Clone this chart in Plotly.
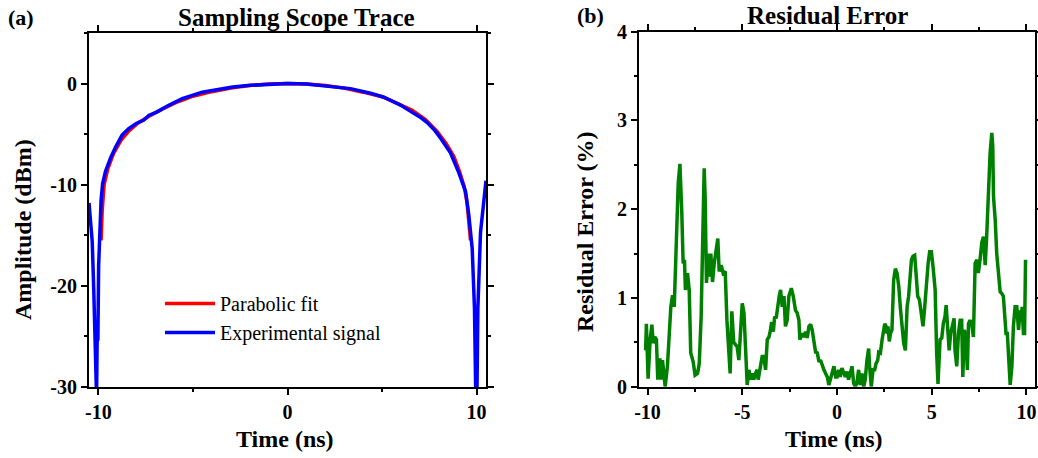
import plotly.graph_objects as go

# ---------------- data ----------------
# (a) Sampling scope trace: parabolic fit (dBm)
fit_t = [-9.86, -9.8, -9.7, -9.5, -9.2, -8.8, -8.4, -7.9, -7.3, -6.6, -5.8, -5.0, -4.0, -3.0,
         -2.0, -1.0, 0.0, 1.0, 2.0, 3.0, 4.0, 5.0, 5.8, 6.6, 7.3, 7.9, 8.4, 8.8, 9.1, 9.35,
         9.5, 9.6, 9.68]
fit_db = [-15.5, -12.5, -10.0, -8.4, -6.9, -5.6, -4.7, -3.9, -3.2, -2.5, -1.8, -1.25, -0.8, -0.45,
          -0.2, -0.05, 0.0, -0.05, -0.2, -0.45, -0.85, -1.3, -1.95, -2.65, -3.55, -4.7, -5.95, -7.2,
          -8.7, -10.2, -11.8, -13.5, -15.5]

# (a) experimental signal (dBm)
exp_t = [-10.5, -10.42, -10.33, -10.25, -10.2, -10.15, -10.1, -10.07, -10.03, -9.99, -9.93,
         -9.86, -9.78, -9.63, -9.37, -9.1, -8.75, -8.4, -8.0, -7.6, -7.34, -6.9, -6.28, -5.57,
         -4.51, -3.72, -2.9, -1.96, -1.0, 0.0, 1.0, 1.57, 2.5, 3.33, 4.39, 5.1, 5.45, 6.0, 6.51,
         7.0, 7.39, 7.8, 8.1, 8.62, 9.06, 9.42, 9.59, 9.77, 9.89, 9.96, 10.02, 10.07, 10.21,
         10.39, 10.5]
exp_db = [-11.8, -13.6, -15.6, -20.3, -25.5, -31.0, -31.0, -25.5, -25.3, -18.0, -14.0,
          -11.5, -9.9, -8.7, -7.4, -6.3, -5.1, -4.45, -3.95, -3.6, -3.15, -2.8, -2.15, -1.5,
          -0.85, -0.6, -0.35, -0.17, -0.05, 0.0, -0.05, -0.15, -0.3, -0.5, -0.95, -1.35, -1.65, -2.15,
          -2.75, -3.3, -3.85, -4.65, -5.4, -6.85, -8.8, -10.7, -13.0, -16.3, -22.2, -31.0, -31.0,
          -22.2, -14.7, -11.4, -9.6]

# (b) residual error (%)
res_t = [-10.1, -10.06, -9.97, -9.86, -9.77, -9.70, -9.62, -9.53, -9.46, -9.35, -9.28, -9.21,
         -9.07, -8.95, -8.77, -8.68, -8.59, -8.50, -8.38, -8.29, -8.22, -8.19, -8.12, -8.05,
         -8.00, -7.89, -7.80, -7.72, -7.59, -7.49, -7.36, -7.27, -7.17, -7.10, -7.01, -6.96,
         -6.89, -6.78, -6.71, -6.66, -6.57, -6.48, -6.40, -6.29, -6.22, -6.11, -6.01, -5.90,
         -5.81, -5.69, -5.64, -5.55, -5.45, -5.27, -5.18, -5.00, -4.91, -4.83, -4.74, -4.65,
         -4.56, -4.47, -4.39, -4.30, -4.21, -4.16, -4.03, -3.95, -3.86, -3.77, -3.68, -3.59,
         -3.51, -3.45, -3.36, -3.29, -3.21, -3.12, -3.05, -2.98, -2.89, -2.80, -2.72, -2.63,
         -2.54, -2.41, -2.31, -2.19, -2.10, -2.01, -1.96, -1.83, -1.75, -1.66, -1.57, -1.48,
         -1.39, -1.31, -1.22, -1.13, -1.04, -0.95, -0.87, -0.78, -0.69, -0.60, -0.51, -0.43,
         -0.34, -0.25, -0.16, -0.07, 0.00, 0.09, 0.17, 0.26, 0.35, 0.44, 0.53, 0.61, 0.70, 0.79,
         0.88, 0.97, 1.05, 1.14, 1.23, 1.32, 1.41, 1.49, 1.58, 1.67, 1.72, 1.81, 1.90, 1.99,
         2.06, 2.15, 2.20, 2.29, 2.38, 2.46, 2.52, 2.59, 2.64, 2.69, 2.76, 2.82, 2.90, 2.99,
         3.08, 3.17, 3.26, 3.34, 3.43, 3.52, 3.61, 3.70, 3.78, 3.87, 3.93, 4.01, 4.10, 4.17,
         4.26, 4.35, 4.44, 4.54, 4.63, 4.72, 4.81, 4.89, 4.98, 5.07, 5.18, 5.26, 5.33, 5.44,
         5.53, 5.61, 5.70, 5.76, 5.83, 5.92, 6.00, 6.09, 6.18, 6.23, 6.32, 6.41, 6.50, 6.58,
         6.64, 6.72, 6.81, 6.88, 6.94, 7.02, 7.11, 7.20, 7.29, 7.38, 7.46, 7.55, 7.64, 7.73,
         7.82, 7.90, 7.99, 8.08, 8.17, 8.22, 8.26, 8.35, 8.43, 8.52, 8.61, 8.70, 8.78, 8.87,
         8.92, 8.99, 9.07, 9.14, 9.23, 9.31, 9.40, 9.49, 9.58, 9.67, 9.72, 9.77, 9.84, 9.90,
         9.95]
res_v = [0.41, 0.71, 0.09, 0.53, 0.70, 0.49, 0.56, 0.53, 0.08, 0.32, 0.08, 0.30,
         0.00, 0.23, 0.90, 1.03, 0.90, 1.65, 2.29, 2.51, 2.18, 1.95, 1.39, 1.43,
         1.09, 1.28, 1.09, 0.38, 0.28, 0.13, 0.15, 0.26, 0.79, 1.50, 2.46, 2.14,
         1.17, 1.50, 1.24, 1.50, 1.18, 1.39, 1.50, 1.67, 1.30, 1.37, 1.28, 1.30,
         0.75, 0.38, 0.15, 0.85, 0.50, 0.45, 0.30, 0.94, 0.83, 0.45, 0.02, 0.19,
         0.08, 0.15, 0.08, 0.15, 0.19, 0.08, 0.23, 0.34, 0.34, 0.19, 0.53, 0.56,
         0.64, 0.73, 0.62, 0.79, 0.77, 0.94, 1.02, 1.09, 0.90, 1.02, 0.68, 0.75,
         1.02, 1.11, 1.02, 0.86, 0.83, 0.75, 0.53, 0.60, 0.56, 0.62, 0.55, 0.68,
         0.70, 0.64, 0.53, 0.39, 0.38, 0.28, 0.30, 0.23, 0.19, 0.15, 0.11, 0.02,
         0.09, 0.15, 0.23, 0.11, 0.11, 0.19, 0.11, 0.21, 0.15, 0.11, 0.17, 0.08, 0.15, 0.23,
         0.04, 0.00, 0.04, 0.19, 0.02, 0.15, 0.00, 0.08, 0.30, 0.43, 0.23, 0.00, 0.19, 0.19,
         0.26, 0.30, 0.39, 0.38, 0.53, 0.64, 0.71, 0.68, 0.60, 0.68, 0.51, 0.60, 0.64, 1.20,
         1.33, 1.28, 1.13, 0.90, 0.68, 0.49, 0.41, 0.90, 1.02, 1.28, 1.43, 1.47, 1.48, 1.28,
         1.02, 0.98, 0.86, 0.68, 0.90, 1.20, 1.39, 1.52, 1.52, 1.35, 1.09, 0.38, 0.03, 0.53,
         0.55, 0.71, 0.79, 0.92, 0.68, 0.41, 0.60, 0.71, 0.77, 0.41, 0.23, 0.60, 0.75, 0.75,
         0.11, 0.64, 0.53, 0.19, 0.71, 0.75, 0.71, 0.56, 1.39, 1.43, 1.28, 1.43, 1.62, 1.69,
         1.37, 1.69, 2.29, 2.63, 2.86, 2.71, 2.14, 1.88, 1.50, 1.24, 1.07, 1.05, 1.02, 0.75,
         0.60, 0.60, 0.30, 0.02, 0.23, 0.68, 0.90, 0.90, 0.64, 0.86, 0.75, 0.90, 0.60, 0.60,
         1.43]

# tick labels
a_xticks = [-10, 0, 10]
a_xlabels = ["-10", "0", "10"]
a_yticks = [-30, -20, -10, 0]
a_ylabels = ["-30", "-20", "-10", "0"]
b_xticks = [-10, -5, 0, 5, 10]
b_xlabels = ["-10", "-5", "0", "5", "10"]
b_yticks = [0, 1, 2, 3, 4]
b_ylabels = ["0", "1", "2", "3", "4"]

# ---------------- figure ----------------
W, H = 1038, 458
SERIF = "Liberation Serif"

fig = go.Figure()
fig.add_trace(go.Scatter(x=fit_t, y=fit_db, mode="lines", name="Parabolic fit",
                         line=dict(color="#FF0000", width=3.5), xaxis="x", yaxis="y"))
fig.add_trace(go.Scatter(x=exp_t, y=exp_db, mode="lines", name="Experimental signal",
                         line=dict(color="#0000FF", width=3.5), xaxis="x", yaxis="y"))
fig.add_trace(go.Scatter(x=res_t, y=res_v, mode="lines", showlegend=False,
                         line=dict(color="#008000", width=3.5), xaxis="x2", yaxis="y2"))

tickfont = dict(family=SERIF, size=20, color="black", weight="bold")

def ax(**kw):
    base = dict(showline=True, linewidth=2, linecolor="black", mirror="allticks",
                ticks="outside", ticklen=6, tickwidth=2, tickcolor="black",
                showgrid=False, zeroline=False, tickfont=tickfont, automargin=False)
    base.update(kw)
    return base

# window pixel -> paper fraction
px2x = lambda p: p / W
px2y = lambda p: 1 - p / H

fig.update_layout(
    width=W, height=H, margin=dict(l=0, r=0, t=0, b=0, autoexpand=False),
    paper_bgcolor="white", plot_bgcolor="white",
    xaxis=ax(domain=[px2x(89), px2x(486)], range=[-10.5, 10.5], anchor="y",
             tickmode="array", tickvals=a_xticks, ticktext=a_xlabels,
             minor=dict(ticks="outside", ticklen=3, tickwidth=2, dtick=5, tickcolor="black")),
    yaxis=ax(domain=[px2y(387), px2y(33)], range=[-30, 5], anchor="x",
             tickmode="array", tickvals=a_yticks, ticktext=a_ylabels,
             minor=dict(ticks="outside", ticklen=3, tickwidth=2, dtick=5, tickcolor="black")),
    xaxis2=ax(domain=[px2x(639), px2x(1035)], range=[-10.45, 10.45], anchor="y2",
              tickmode="array", tickvals=b_xticks, ticktext=b_xlabels,
              minor=dict(ticks="outside", ticklen=3, tickwidth=2, dtick=2.5, tickcolor="black")),
    yaxis2=ax(domain=[px2y(386.7), px2y(31.7)], range=[0, 4], anchor="x2",
              tickmode="array", tickvals=b_yticks, ticktext=b_ylabels,
              minor=dict(ticks="outside", ticklen=3, tickwidth=2, dtick=0.5, tickcolor="black")),
    legend=dict(x=px2x(160), y=px2y(284), xanchor="left", yanchor="top",
                bgcolor="rgba(0,0,0,0)", borderwidth=0,
                font=dict(family=SERIF, size=20, color="black"),
                itemwidth=50, tracegroupgap=0),
    showlegend=True,
)

def label(text, x, y, size, angle=0):
    fig.add_annotation(text=text, x=px2x(x), y=px2y(y), xref="paper", yref="paper",
                       xanchor="center", yanchor="middle", showarrow=False, textangle=angle,
                       font=dict(family=SERIF, size=size, color="black", weight="bold"))

label("(a)", 21, 17, 22)
label("(b)", 590, 15, 22)
label("Sampling Scope Trace", 296, 17, 25)
label("Residual Error", 827, 16, 25)
label("Time (ns)", 285, 439, 24)
label("Time (ns)", 834, 439, 24)
label("Amplitude (dBm)", 23, 230, 24, -90)
label("Residual Error (%)", 585, 232, 24, -90)

# remove the default 8px page margin so the figure fills the window from (0, 0)
fig.write_html("out.html", config={"displayModeBar": False},
               post_script="document.body.style.margin='0px';")
